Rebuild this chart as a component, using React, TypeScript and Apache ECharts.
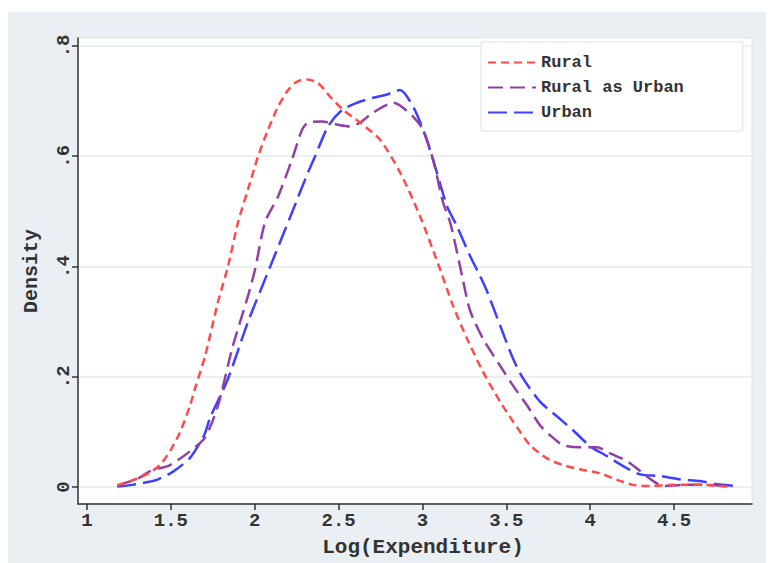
import React, { useEffect, useRef } from 'react';
import * as echarts from 'echarts';

const seriesNames = ['Rural', 'Rural as Urban', 'Urban'];
const yTicks = [0, 0.2, 0.4, 0.6, 0.8];
const xTicks = [1, 1.5, 2, 2.5, 3, 3.5, 4, 4.5];

const ruralX = [1.18, 1.26, 1.36, 1.435, 1.5, 1.555, 1.614, 1.644, 1.704, 1.781, 1.841, 1.9, 1.96, 2.02, 2.079, 2.139, 2.199, 2.25, 2.312, 2.377, 2.449, 2.527, 2.628, 2.747, 2.866, 2.986, 3.105, 3.182, 3.266, 3.361, 3.463, 3.54, 3.642, 3.743, 3.838, 3.958, 4.059, 4.16, 4.256, 4.357, 4.494, 4.655, 4.85];
const ruralY = [0.003, 0.011, 0.024, 0.04, 0.068, 0.1, 0.148, 0.179, 0.238, 0.336, 0.401, 0.48, 0.54, 0.6, 0.648, 0.69, 0.72, 0.735, 0.739, 0.733, 0.708, 0.684, 0.661, 0.63, 0.571, 0.491, 0.395, 0.329, 0.269, 0.209, 0.155, 0.119, 0.076, 0.052, 0.04, 0.031, 0.025, 0.013, 0.004, 0.002, 0.004, 0.004, 0.0];

const ruralAsUrbanX = [1.18, 1.3, 1.376, 1.495, 1.614, 1.704, 1.781, 1.865, 1.96, 2.002, 2.061, 2.139, 2.222, 2.282, 2.318, 2.401, 2.497, 2.568, 2.628, 2.687, 2.765, 2.825, 2.866, 2.944, 3.004, 3.063, 3.123, 3.165, 3.206, 3.236, 3.284, 3.361, 3.463, 3.54, 3.624, 3.701, 3.761, 3.838, 3.94, 4.041, 4.119, 4.22, 4.298, 4.375, 4.435, 4.554, 4.697, 4.85];
const ruralAsUrbanY = [0.003, 0.015, 0.029, 0.04, 0.065, 0.09, 0.148, 0.251, 0.347, 0.395, 0.48, 0.527, 0.594, 0.648, 0.661, 0.663, 0.657, 0.654, 0.661, 0.675, 0.69, 0.697, 0.692, 0.672, 0.648, 0.594, 0.516, 0.48, 0.426, 0.383, 0.32, 0.269, 0.22, 0.184, 0.148, 0.112, 0.094, 0.076, 0.072, 0.072, 0.061, 0.047, 0.029, 0.011, 0.002, 0.004, 0.004, 0.002];

const urbanX = [1.18, 1.27, 1.376, 1.417, 1.513, 1.614, 1.698, 1.733, 1.841, 1.96, 2.091, 2.222, 2.318, 2.36, 2.437, 2.521, 2.61, 2.705, 2.789, 2.866, 2.944, 3.004, 3.063, 3.147, 3.206, 3.284, 3.343, 3.385, 3.463, 3.54, 3.6, 3.701, 3.803, 3.898, 4.0, 4.101, 4.196, 4.298, 4.417, 4.536, 4.655, 4.757, 4.876];
const urbanY = [0.001, 0.004, 0.01, 0.013, 0.028, 0.053, 0.094, 0.125, 0.197, 0.3, 0.399, 0.498, 0.571, 0.6, 0.654, 0.684, 0.697, 0.706, 0.712, 0.72, 0.69, 0.648, 0.594, 0.509, 0.473, 0.419, 0.383, 0.355, 0.293, 0.233, 0.197, 0.155, 0.128, 0.103, 0.074, 0.056, 0.038, 0.023, 0.02, 0.014, 0.011, 0.005, 0.002];

const FONT = '"Liberation Mono", "DejaVu Sans Mono", monospace';
const TEXT = '#333333';

function pairs(xs: number[], ys: number[]) {
  return xs.map((x, i) => [x, ys[i]]);
}

export default function App() {
  const ref = useRef<HTMLDivElement>(null);
  useEffect(() => {
    const chart = echarts.init(ref.current!, null, { renderer: 'svg' });
    const colors = ['#ff4b4b', '#9040a4', '#3f3fff'];
    const dashes = [[8, 5], [15, 7], [19, 7]];
    const datas = [pairs(ruralX, ruralY), pairs(ruralAsUrbanX, ruralAsUrbanY), pairs(urbanX, urbanY)];
    chart.setOption({
      animation: false,
      backgroundColor: '#e9eff2',
      grid: {
        left: 70, right: 14, top: 26, bottom: 57,
        show: true, backgroundColor: '#ffffff', borderColor: '#dde4e7', borderWidth: 1,
      },
      legend: {
        orient: 'vertical',
        left: 473, top: 30,
        padding: [12, 59, 10, 6],
        itemWidth: 48, itemHeight: 17, itemGap: 8,
        itemStyle: { opacity: 0 },
        backgroundColor: '#ffffff', borderColor: '#dce3e6', borderWidth: 1,
        textStyle: { fontFamily: FONT, fontSize: 17, fontWeight: 'bold', color: TEXT },
        data: seriesNames,
      },
      xAxis: {
        type: 'value', min: 0.946, max: 4.965,
        name: 'Log(Expenditure)', nameLocation: 'middle', nameGap: 33,
        nameTextStyle: { fontFamily: FONT, fontSize: 21, fontWeight: 'bold', color: TEXT, padding: [0, 0, 0, 16] },
        axisLine: { show: true, onZero: false, lineStyle: { color: '#333', width: 1.5 } },
        axisTick: { show: true, length: 6, customValues: xTicks, lineStyle: { color: '#333', width: 1.5 } },
        axisLabel: { customValues: xTicks, margin: 7, fontFamily: FONT, fontSize: 19, fontWeight: 'bold', color: TEXT, formatter: (v: number) => String(v) },
        splitLine: { show: false },
      },
      yAxis: {
        type: 'value', min: -0.0307, max: 0.8144,
        name: 'Density', nameLocation: 'middle', nameGap: 37,
        nameTextStyle: { fontFamily: FONT, fontSize: 20, fontWeight: 'bold', color: TEXT },
        axisLine: { show: true, onZero: false, lineStyle: { color: '#333', width: 1.5 } },
        axisTick: { show: true, length: 6, customValues: yTicks, lineStyle: { color: '#333', width: 1.5 } },
        axisLabel: {
          customValues: yTicks, rotate: 90, margin: 5, fontFamily: FONT, fontSize: 19, fontWeight: 'bold', color: TEXT,
          formatter: (v: number) => (v === 0 ? '0' : v.toFixed(1).replace(/^0/, '')),
        },
        splitLine: { show: true, lineStyle: { color: '#e3ebee', width: 1.5 } },
      },
      series: seriesNames.map((n, i) => ({
        name: n, type: 'line', data: datas[i], symbol: 'none', smooth: 0.25,
        lineStyle: { color: colors[i], width: 2.5, type: dashes[i] },
        itemStyle: { color: colors[i] },
        z: 3 - i,
      })),
    });
    return () => chart.dispose();
  }, []);
  return <div ref={ref} style={{ position: 'absolute', left: 8, top: 12, width: 758, height: 551 }} />;
}
